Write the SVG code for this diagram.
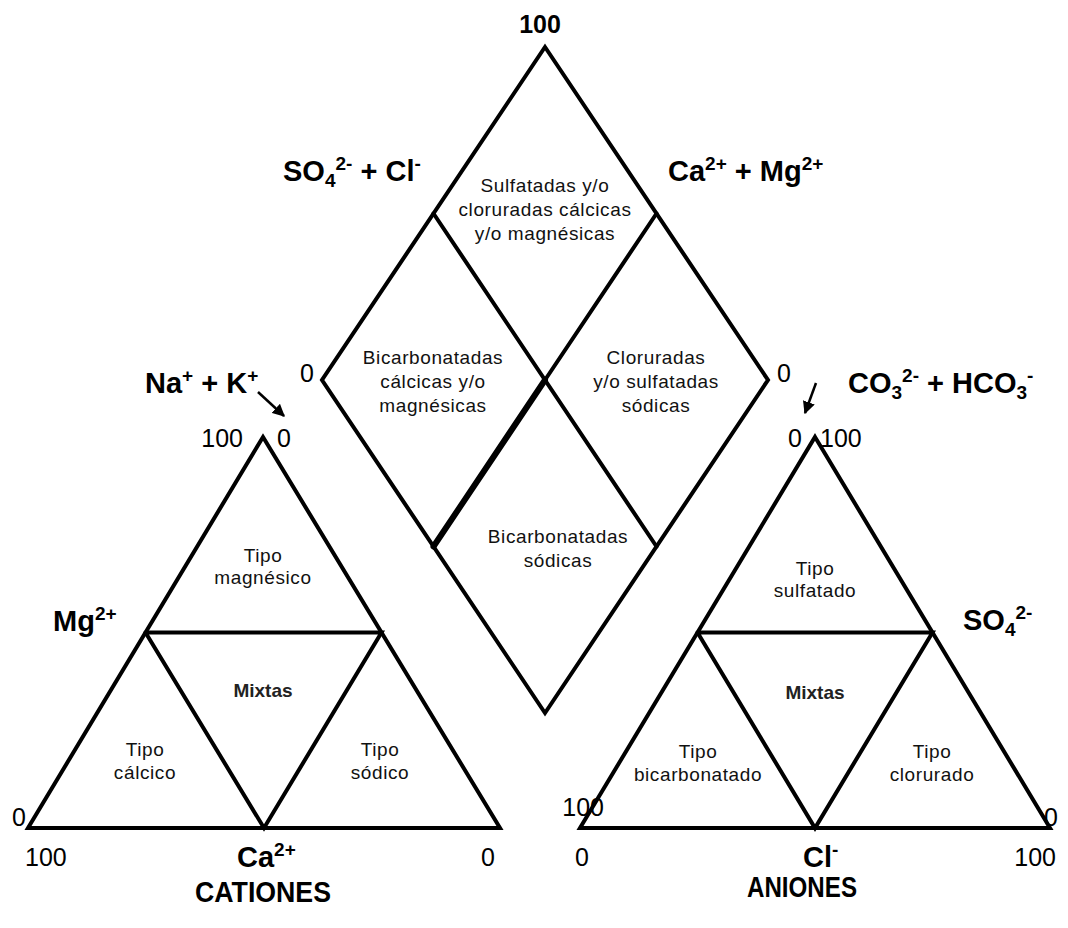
<svg xmlns="http://www.w3.org/2000/svg" width="1068" height="928" viewBox="0 0 1068 928">
<defs>
<style>
.ln{fill:none;stroke:#000;stroke-width:4;stroke-linejoin:miter;stroke-linecap:round}
.rg{font-family:"Liberation Sans",Arial,sans-serif;font-size:19px;fill:#111;text-anchor:middle;letter-spacing:0.6px}
.mx{font-family:"Liberation Sans",Arial,sans-serif;font-size:19px;fill:#222;text-anchor:middle;font-weight:bold}
.bd{font-family:"Liberation Sans",Arial,sans-serif;font-size:29px;font-weight:bold;fill:#000}
.nm{font-family:"Liberation Sans",Arial,sans-serif;font-size:25px;fill:#000}
.sp{font-size:19px}
.tt{font-family:"Liberation Sans",Arial,sans-serif;font-size:29px;font-weight:bold;fill:#000;text-anchor:middle}
</style>
<marker id="ah" viewBox="0 0 10 10" refX="9" refY="5" markerWidth="5" markerHeight="5" orient="auto" markerUnits="strokeWidth">
<path d="M0,0 L10,5 L0,10 z" fill="#000"/>
</marker>
</defs>
<rect width="1068" height="928" fill="#fff"/>

<g id="diamond">
<polygon class="ln" points="545,47 768,380 545,713 322,380"/>
<line class="ln" x1="433.5" y1="213.5" x2="656.5" y2="546.5"/>
<line class="ln" x1="656.5" y1="213.5" x2="545" y2="380"/>
<line class="ln" x1="545" y1="380" x2="433.5" y2="546.5" style="stroke-width:6"/>
</g>

<g id="tri-cationes">
<polygon class="ln" points="263,437 500,828 28,828"/>
<polyline class="ln" points="145.5,632.5 381.5,632.5 264,828 145.5,632.5"/>
</g>

<g id="tri-aniones">
<polygon class="ln" points="815,437 1050,828 580,828"/>
<polyline class="ln" points="697.5,632.5 932.5,632.5 815,828 697.5,632.5"/>
</g>

<g id="connectors">
<line x1="258" y1="392" x2="284" y2="416" stroke="#000" stroke-width="2.5" marker-end="url(#ah)"/>
<line x1="816" y1="383" x2="805" y2="413" stroke="#000" stroke-width="2.5" marker-end="url(#ah)"/>
</g>

<g id="diamond-regions">
<text class="rg" x="545" y="192">Sulfatadas y/o</text>
<text class="rg" x="545" y="216">cloruradas cálcicas</text>
<text class="rg" x="545" y="240">y/o magnésicas</text>
<text class="rg" x="433" y="364">Bicarbonatadas</text>
<text class="rg" x="433" y="388">cálcicas y/o</text>
<text class="rg" x="433" y="412">magnésicas</text>
<text class="rg" x="656" y="364">Cloruradas</text>
<text class="rg" x="656" y="388">y/o sulfatadas</text>
<text class="rg" x="656" y="412">sódicas</text>
<text class="rg" x="558" y="543">Bicarbonatadas</text>
<text class="rg" x="558" y="567">sódicas</text>
</g>

<g id="cation-regions">
<text class="rg" x="263" y="562">Tipo</text>
<text class="rg" x="263" y="584">magnésico</text>
<text class="mx" x="263" y="697">Mixtas</text>
<text class="rg" x="145" y="756">Tipo</text>
<text class="rg" x="145" y="779">cálcico</text>
<text class="rg" x="380" y="756">Tipo</text>
<text class="rg" x="380" y="779">sódico</text>
</g>

<g id="anion-regions">
<text class="rg" x="815" y="575">Tipo</text>
<text class="rg" x="815" y="597">sulfatado</text>
<text class="mx" x="815" y="699">Mixtas</text>
<text class="rg" x="698" y="758">Tipo</text>
<text class="rg" x="698" y="781">bicarbonatado</text>
<text class="rg" x="932" y="758">Tipo</text>
<text class="rg" x="932" y="781">clorurado</text>
</g>

<g id="axis-labels">
<text class="bd" x="283" y="181">SO<tspan class="sp" dy="6">4</tspan><tspan class="sp" dy="-17">2-</tspan><tspan dy="11"> + Cl</tspan><tspan class="sp" dy="-11">-</tspan></text>
<text class="bd" x="668" y="181">Ca<tspan class="sp" dy="-11">2+</tspan><tspan dy="11"> + Mg</tspan><tspan class="sp" dy="-11">2+</tspan></text>
<text class="bd" x="145" y="393">Na<tspan class="sp" dy="-11">+</tspan><tspan dy="11"> + K</tspan><tspan class="sp" dy="-11">+</tspan></text>
<text class="bd" x="848" y="393">CO<tspan class="sp" dy="6">3</tspan><tspan class="sp" dy="-17">2-</tspan><tspan dy="11"> + HCO</tspan><tspan class="sp" dy="6">3</tspan><tspan class="sp" dy="-17">-</tspan></text>
<text class="bd" x="53" y="631">Mg<tspan class="sp" dy="-11">2+</tspan></text>
<text class="bd" x="963" y="630">SO<tspan class="sp" dy="6">4</tspan><tspan class="sp" dy="-17">2-</tspan></text>
<text class="bd" x="237" y="867">Ca<tspan class="sp" dy="-11">2+</tspan></text>
<text class="bd" x="803" y="867">Cl<tspan class="sp" dy="-11">-</tspan></text>
</g>

<g id="numbers">
<text class="nm" x="540" y="33" text-anchor="middle" font-weight="bold">100</text>
<text class="nm" x="314" y="382" text-anchor="end">0</text>
<text class="nm" x="777" y="382">0</text>
<text class="nm" x="243" y="447" text-anchor="end">100</text>
<text class="nm" x="277" y="447">0</text>
<text class="nm" x="802" y="447" text-anchor="end">0</text>
<text class="nm" x="820" y="447">100</text>
<text class="nm" x="26" y="826" text-anchor="end">0</text>
<text class="nm" x="25" y="866">100</text>
<text class="nm" x="495" y="866" text-anchor="end">0</text>
<text class="nm" x="604" y="816" text-anchor="end" font-size="26">100</text>
<text class="nm" x="1044" y="826">0</text>
<text class="nm" x="575" y="866">0</text>
<text class="nm" x="1056" y="866" text-anchor="end">100</text>
</g>

<g id="titles">
<text class="tt" x="263" y="902" textLength="136" lengthAdjust="spacingAndGlyphs">CATIONES</text>
<text class="tt" x="802" y="897" textLength="110" lengthAdjust="spacingAndGlyphs">ANIONES</text>
</g>
</svg>
